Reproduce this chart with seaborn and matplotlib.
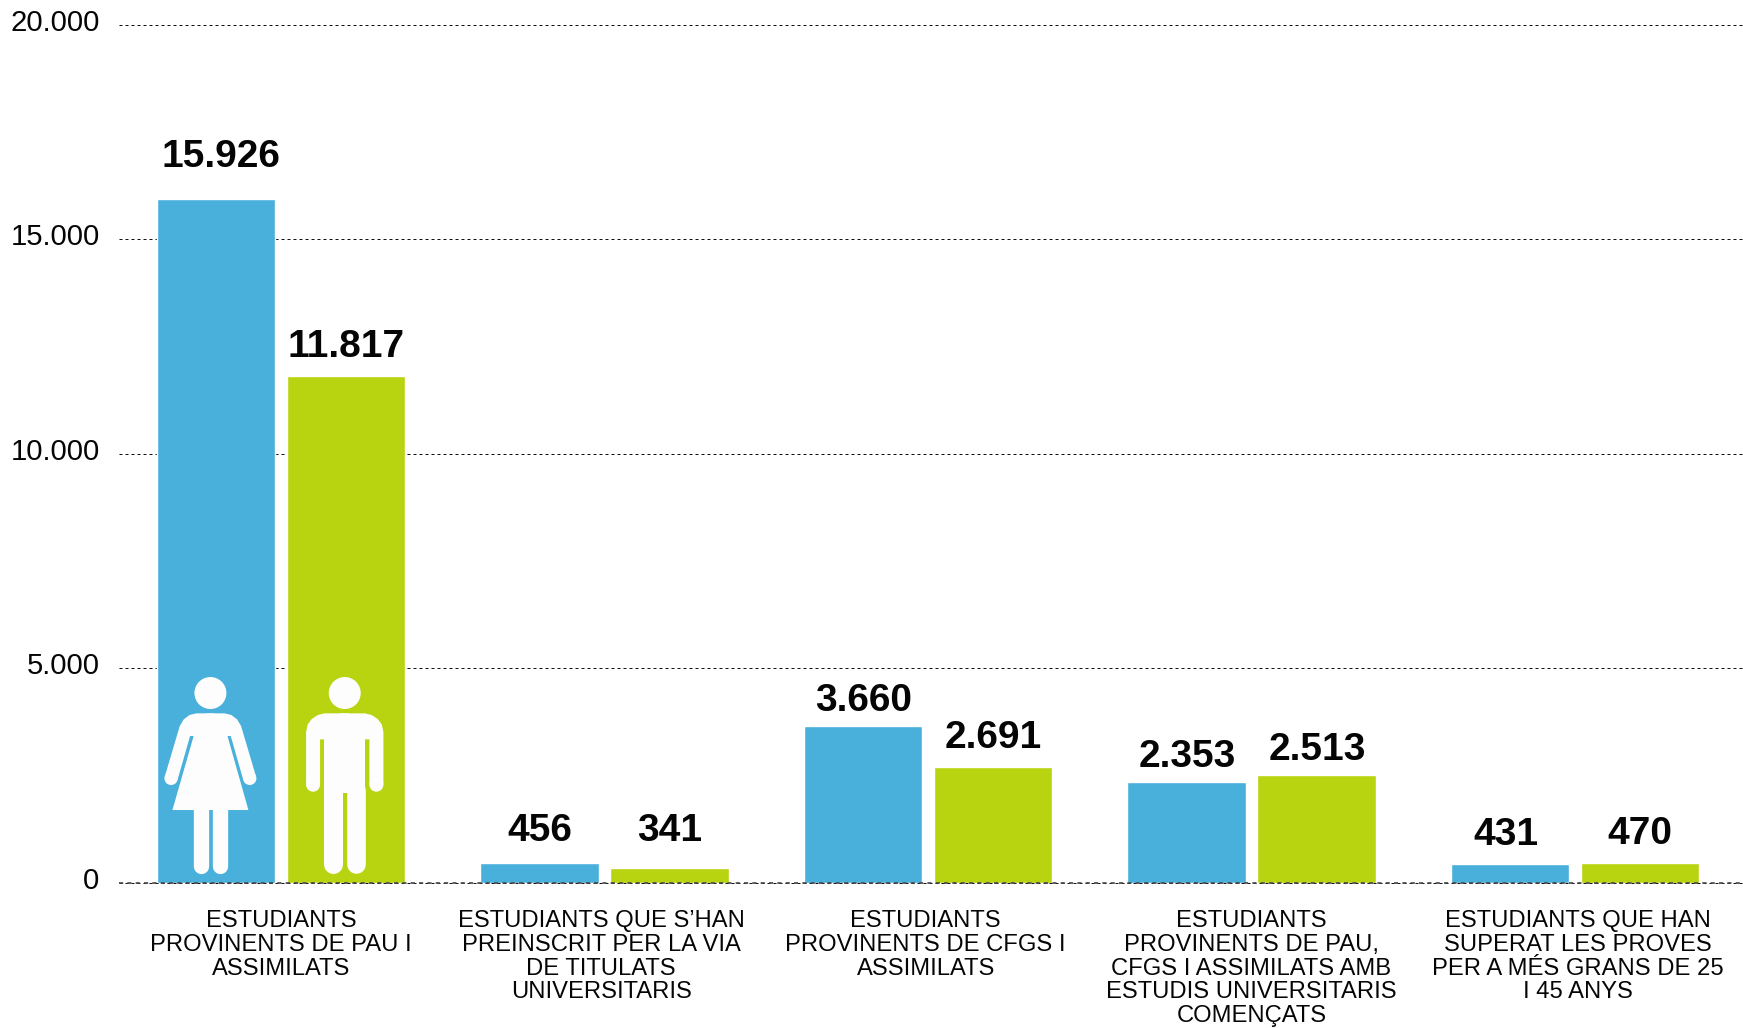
import matplotlib
matplotlib.use("Agg")
import matplotlib.pyplot as plt
import pandas as pd
import seaborn as sns
from matplotlib.patches import Circle, Polygon, Rectangle
from matplotlib.lines import Line2D
from matplotlib.transforms import Affine2D, ScaledTranslation

categories = [
    "ESTUDIANTS\nPROVINENTS DE PAU I\nASSIMILATS",
    "ESTUDIANTS QUE S’HAN\nPREINSCRIT PER LA VIA\nDE TITULATS\nUNIVERSITARIS",
    "ESTUDIANTS\nPROVINENTS DE CFGS I\nASSIMILATS",
    "ESTUDIANTS\nPROVINENTS DE PAU,\nCFGS I ASSIMILATS AMB\nESTUDIS UNIVERSITARIS\nCOMENÇATS",
    "ESTUDIANTS QUE HAN\nSUPERAT LES PROVES\nPER A MÉS GRANS DE 25\nI 45 ANYS",
]
dones = [15926, 456, 3660, 2353, 431]
homes = [11817, 341, 2691, 2513, 470]
dones_labels = ["15.926", "456", "3.660", "2.353", "431"]
homes_labels = ["11.817", "341", "2.691", "2.513", "470"]
y_ticks = [0, 5000, 10000, 15000, 20000]
y_tick_labels = ["0", "5.000", "10.000", "15.000", "20.000"]
dones_gap_px = [32, 22, 15, 15, 19]
homes_gap_px = [19, 27, 19, 15, 19]
dones_dx_px = [5, 0, 1, 1, -4]
homes_dx_px = [0, 0, 0, 1, 0]
cat_dx_px = [0, -3, -2, 0, 3]

BLUE, GREEN = "#49B0DC", "#B8D30F"
INK = "#050505"
W, H = 1743, 1028
sns.set_theme(style="white")
plt.rcParams["font.family"] = ["Liberation Sans", "DejaVu Sans"]

df = pd.DataFrame({
    "cat": categories * 2,
    "sexe": ["Dones"] * 5 + ["Homes"] * 5,
    "valor": dones + homes,
})

fig = plt.figure(figsize=(W / 100, H / 100), dpi=100, facecolor="white")
ax = fig.add_axes([119 / W, 1 - 882.7 / H, (W - 119) / W, 858 / H])
sns.barplot(data=df, x="cat", y="valor", hue="sexe", palette=[BLUE, GREEN],
            width=0.8037, gap=0.09, saturation=1, legend=False, ax=ax)
ax.set_xlim(-0.5005, 4.5195)
ax.set_ylim(0, 20000)
ax.set_xlabel("")
ax.set_ylabel("")
sns.despine(ax=ax, left=True, bottom=True, top=True, right=True)
ax.set_axisbelow(True)
ax.set_yticks(y_ticks)
ax.set_yticklabels(y_tick_labels)
ax.yaxis.grid(True, color="#111111", lw=0.72, ls=(0, (3, 3)))
ax.xaxis.grid(False)
ax.tick_params(axis="y", length=0, pad=14.0, labelsize=21.1, labelcolor=INK)
ax.tick_params(axis="x", length=0, pad=20, labelsize=17.15, labelcolor=INK)
for lab in ax.get_yticklabels():
    lab.set_transform(lab.get_transform() + ScaledTranslation(0, 5 / 100, fig.dpi_scale_trans))
for lab, dx in zip(ax.get_xticklabels(), cat_dx_px):
    lab.set_linespacing(1.09)
    lab.set_transform(lab.get_transform() + ScaledTranslation(dx * 1.11 / 100, 0, fig.dpi_scale_trans))
for gl in ax.get_ygridlines():
    gl.set_clip_on(False)
ax.axhline(0, color="#444444", lw=1.2, ls=(0, (2.5, 2.5)), zorder=5, clip_on=False)

def put_labels(bars, texts, gaps, dxs):
    for bar, txt, gap, dx in zip(bars, texts, gaps, dxs):
        ax.annotate(txt, (bar.get_x() + bar.get_width() / 2, bar.get_height()),
                    xytext=(dx * 0.72, gap * 0.72), textcoords="offset points",
                    ha="center", va="baseline", fontsize=28, fontweight="bold",
                    color=INK, zorder=6)

put_labels(ax.containers[0], dones_labels, dones_gap_px, dones_dx_px)
put_labels(ax.containers[1], homes_labels, homes_gap_px, homes_dx_px)

ICON = "#FDFDFD"

def icon_transform(bar, cx):
    x0, y0 = ax.transData.transform((bar.get_x() + bar.get_width() / 2, 0))
    return Affine2D().translate(-cx, -698).scale(1 / 3, -1 / 3).translate(x0, y0)

def limb(tr, p, q, w_zoom, cap="round"):
    ax.add_line(Line2D([p[0], q[0]], [p[1], q[1]], transform=tr, color=ICON,
                       lw=w_zoom / 3 * 0.72, solid_capstyle=cap, zorder=4))

def shape(tr, pts):
    ax.add_patch(Polygon(pts, closed=True, transform=tr, fc=ICON, ec="none", zorder=4))

def dot(tr, c, r):
    ax.add_patch(Circle(c, r, transform=tr, fc=ICON, ec="none", zorder=4))

# woman pictogram, in the first blue bar
t = icon_transform(ax.containers[0][0], 229.5)
dot(t, (213, 129), 48)
left_arm = [(225, 190), (170, 190), (150, 195), (133, 208), (121, 228), (76, 380), (114, 391), (152, 258), (225, 258)]
shape(t, left_arm)
shape(t, [(426 - x, y) for x, y in left_arm])
shape(t, [(165, 250), (262, 250), (327, 480), (99, 480)])
dot(t, (95, 385), 20)
dot(t, (331, 385), 20)
limb(t, (185, 470), (185, 648), 46)
limb(t, (243, 470), (243, 648), 46)

# man pictogram, in the first green bar
t = icon_transform(ax.containers[1][0], 619.5)
dot(t, (616, 129), 48)
left_side = [(630, 190), (555, 190), (535, 195), (517, 207), (505, 223), (500, 245), (500, 404), (542, 404), (542, 268), (630, 268)]
shape(t, left_side)
shape(t, [(1232 - x, y) for x, y in left_side])
dot(t, (521, 404), 21)
dot(t, (711, 404), 21)
ax.add_patch(Rectangle((553, 260), 125, 170, transform=t, fc=ICON, ec="none", zorder=4))
limb(t, (581, 420), (581, 642), 57)
limb(t, (650, 420), (650, 642), 56)

fig.savefig("out.png", dpi=100, facecolor="white")
